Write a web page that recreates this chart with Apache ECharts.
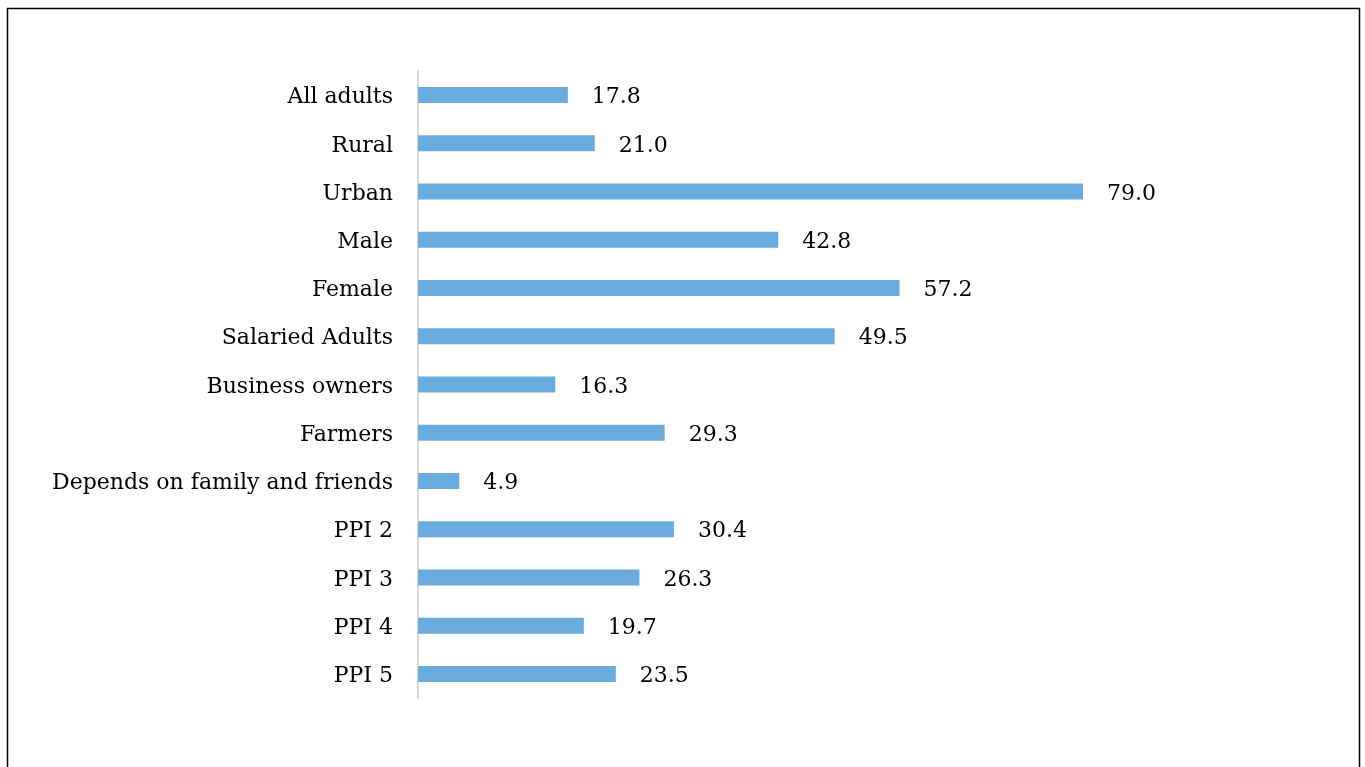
<!DOCTYPE html>
<html>
<head>
<meta charset="utf-8">
<script src="https://cdn.jsdelivr.net/npm/echarts@6/dist/echarts.min.js"></script>
<style>
html,body{margin:0;padding:0;background:#fff;}
#chart{width:1365px;height:767px;}
</style>
</head>
<body>
<div id="chart"></div>
<script>
const categories = ["All adults","Rural","Urban","Male","Female","Salaried Adults","Business owners","Farmers","Depends on family and friends","PPI 2","PPI 3","PPI 4","PPI 5"];
const values = [17.8, 21.0, 79.0, 42.8, 57.2, 49.5, 16.3, 29.3, 4.9, 30.4, 26.3, 19.7, 23.5];

const chart = echarts.init(document.getElementById('chart'));
const font = '"DejaVu Serif", "Liberation Serif", serif';
const richT = {t: {color: '#000', fontFamily: font, fontSize: 22, padding: [5, 0, 0, 0]}};
chart.setOption({
  animation: false,
  graphic: [{
    type: 'rect',
    shape: {x: 7.5, y: 8.5, width: 1352, height: 780},
    style: {fill: 'none', stroke: '#000', lineWidth: 1.5},
    silent: true
  }],
  grid: {left: 418, top: 71, height: 627, width: 757.6, containLabel: false},
  xAxis: {
    type: 'value', min: 0, max: 90, show: false
  },
  yAxis: {
    type: 'category',
    data: categories,
    inverse: true,
    axisLine: {show: true, lineStyle: {color: '#d9d9d9', width: 2}},
    axisTick: {show: false},
    axisLabel: {color: '#000', fontFamily: font, fontSize: 22, margin: 25,
      formatter: v => '{t|' + v + '}', rich: richT}
  },
  series: [{
    type: 'bar',
    data: values,
    barWidth: 16,
    itemStyle: {color: '#6aabdd'},
    label: {
      show: true, position: 'right', distance: 24,
      color: '#000', fontFamily: font, fontSize: 22,
      formatter: p => '{t|' + p.value.toFixed(1) + '}', rich: richT
    }
  }]
});
</script>
</body>
</html>
